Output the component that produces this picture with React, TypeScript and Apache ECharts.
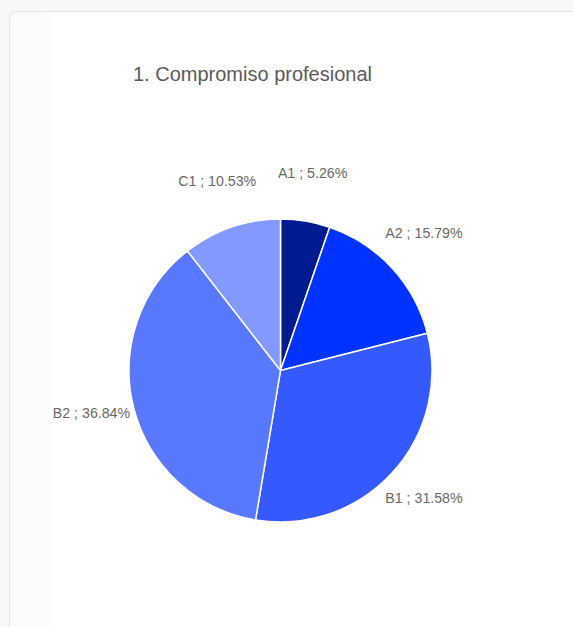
import React, { useEffect, useRef } from "react";
import * as echarts from "echarts";

const categories = ["A1", "A2", "B1", "B2", "C1"];
const counts = [1, 3, 6, 7, 2];
const colors = ["#001a8f", "#0033ff", "#3359ff", "#5878ff", "#8299ff"];
const titleText = "1. Compromiso profesional";

export default function App() {
  const ref = useRef<HTMLDivElement>(null);

  useEffect(() => {
    document.body.style.margin = "0";
    const chart = echarts.init(ref.current!, null, { renderer: "svg" });
    const data = categories.map((c, i) => ({ name: c, value: counts[i] }));
    chart.setOption({
      animation: false,
      title: {
        text: titleText,
        left: 133,
        top: 64,
        padding: 0,
        textStyle: {
          fontFamily: "Liberation Sans, Arial, sans-serif",
          fontSize: 20,
          fontWeight: "normal",
          color: "#5a5a5a",
        },
      },
      color: colors,
      series: [
        {
          type: "pie",
          center: [280.5, 370.5],
          radius: [0, 151.5],
          startAngle: 90,
          clockwise: true,
          silent: true,
          data,
          itemStyle: { borderColor: "#ffffff", borderWidth: 1.5 },
          label: { show: false },
          labelLine: { show: false },
        },
        {
          type: "pie",
          center: [280.5, 370.5],
          radius: [184, 200],
          startAngle: 90,
          clockwise: true,
          silent: true,
          data,
          itemStyle: { color: "transparent", borderWidth: 0 },
          label: {
            show: true,
            position: "inside",
            formatter: "{b} ; {d}%",
            offset: [0, -5],
            fontFamily: "Liberation Sans, Arial, sans-serif",
            fontSize: 14.2,
            color: "#686868",
          },
          labelLine: { show: false },
        },
      ],
    });
    return () => chart.dispose();
  }, []);

  return (
    <div
      style={{
        position: "fixed",
        left: 0,
        top: 0,
        width: 573,
        height: 627,
        background: "#f7f8fa",
        overflow: "hidden",
      }}
    >
      <div
        style={{
          position: "absolute",
          left: 9,
          top: 11,
          width: 620,
          height: 700,
          border: "1px solid #e4e5e9",
          borderRadius: 8,
          background: "linear-gradient(to right, #fafafa 0px, #fcfcfc 40px, #ffffff 48px)",
        }}
      />
      <div
        ref={ref}
        style={{ position: "absolute", left: 0, top: 0, width: 573, height: 627 }}
      />
    </div>
  );
}
